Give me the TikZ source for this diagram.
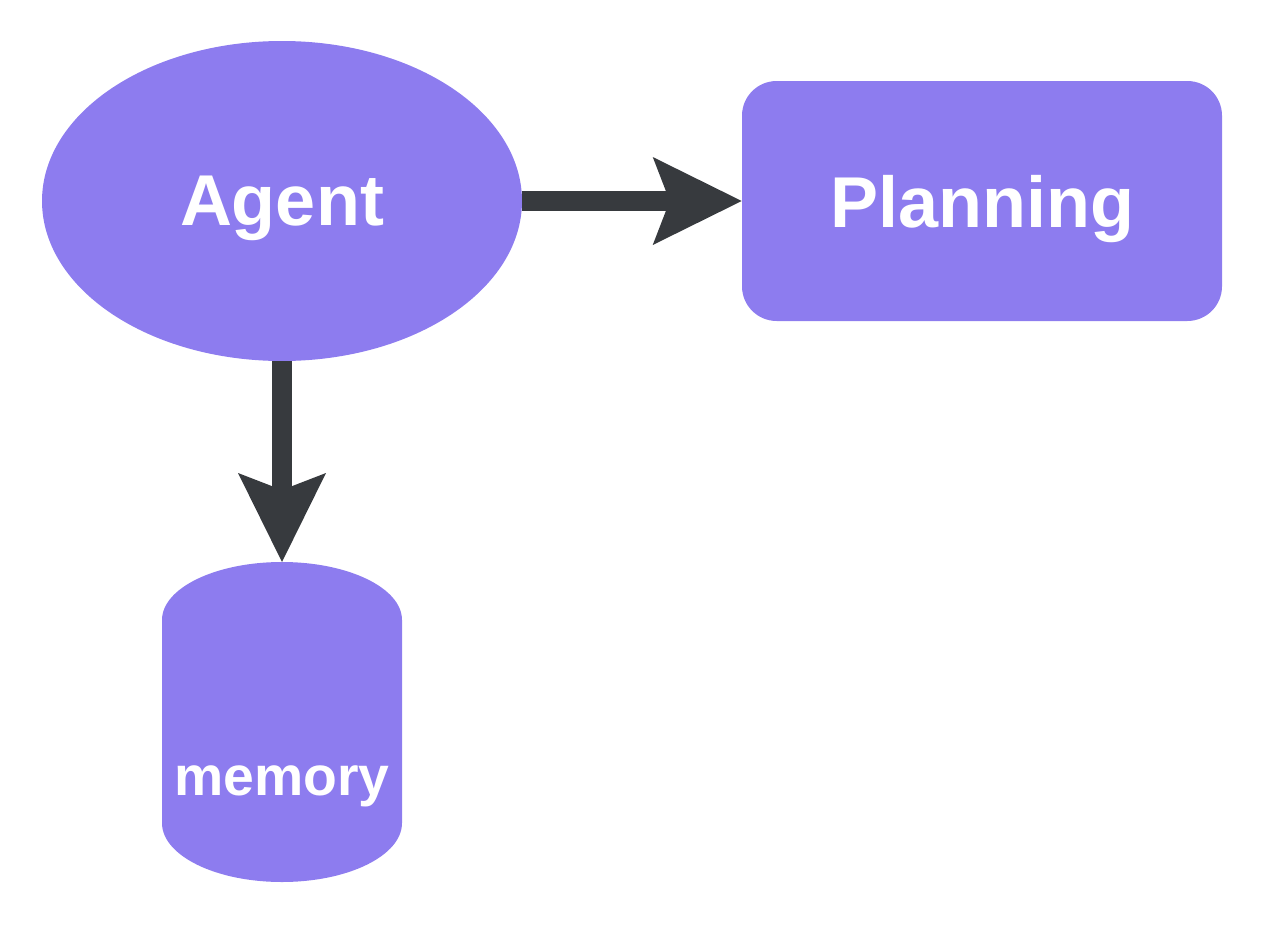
\documentclass[tikz,border=0pt]{standalone}
\usepackage{fontspec}
\setmainfont{Liberation Sans}
\usetikzlibrary{shapes.geometric,arrows.meta}
\definecolor{purp}{HTML}{8D7CEF}
\definecolor{dark}{HTML}{373A3E}
\begin{document}
\begin{tikzpicture}[x=0.75pt,y=0.75pt,
  box/.style={fill=purp,text=white,font=\bfseries\fontsize{54}{60}\selectfont,inner sep=0pt,text depth=0pt},
  conn/.style={draw=dark,line width=15pt,-{Stealth[length=66.75pt,width=66pt,inset=12.75pt,line width=0pt]}}]
\useasboundingbox (0,0) rectangle (1268,-928);
\node[box,ellipse,minimum width=360pt,minimum height=240pt] (agent) at (282,-201) {Agent};
\node[box,rectangle,rounded corners=26pt,minimum width=360pt,minimum height=180pt] (plan) at (982,-201) {Planning};
\fill[purp] (162,-620) -- (162,-823) arc[start angle=180,end angle=360,x radius=90pt,y radius=44.25pt] -- (402,-620) arc[start angle=0,end angle=180,x radius=90pt,y radius=43.5pt] -- cycle;
\coordinate (memtop) at (282,-562);
\node[text=white,font=\bfseries\fontsize{41.5}{46}\selectfont,inner sep=0pt,anchor=base] (mem) at (282,-795) {memory};
\draw[conn] (agent.east) -- (plan.west);
\draw[conn] (agent.south) -- (memtop);
\end{tikzpicture}
\end{document}
